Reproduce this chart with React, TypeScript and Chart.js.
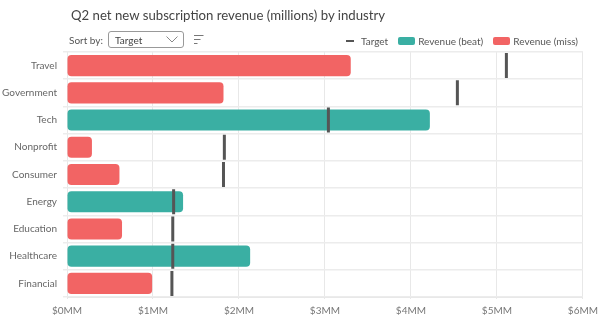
import React, { useEffect, useRef } from "react";
import { Chart, registerables } from "chart.js";

Chart.register(...registerables);

const categories = ["Travel", "Government", "Tech", "Nonprofit", "Consumer", "Energy", "Education", "Healthcare", "Financial"];
const revenue = [3.30, 1.82, 4.22, 0.29, 0.61, 1.35, 0.64, 2.13, 0.99];
const target = [5.11, 4.54, 3.04, 1.83, 1.82, 1.24, 1.23, 1.23, 1.22];
const xTicks = [0, 1, 2, 3, 4, 5, 6];

const TEAL = "#3aafa3";
const RED = "#f26464";
const TARGET = "#555555";
const FONT = "Lato, 'Open Sans', sans-serif";

export default function App() {
  const ref = useRef<HTMLCanvasElement | null>(null);

  useEffect(() => {
    if (!ref.current) return;
    const beat = revenue.map((v, i) => (v >= target[i] ? v : null));
    const miss = revenue.map((v, i) => (v < target[i] ? v : null));
    const chart = new Chart(ref.current, {
      type: "bar",
      data: {
        labels: categories,
        datasets: [
          {
            type: "line",
            label: "Target",
            data: target,
            indexAxis: "y",
            showLine: false,
            pointStyle: "line",
            rotation: 90,
            radius: 12.5,
            hoverRadius: 12.5,
            borderWidth: 3,
            borderColor: TARGET,
            backgroundColor: TARGET,
            order: 0,
          } as any,
          {
            label: "Revenue (beat)",
            data: beat,
            indexAxis: "y",
            backgroundColor: TEAL,
            borderRadius: 4,
            borderSkipped: false,
            grouped: false,
            barPercentage: 0.97,
            categoryPercentage: 0.8,
            order: 1,
          } as any,
          {
            label: "Revenue (miss)",
            data: miss,
            indexAxis: "y",
            backgroundColor: RED,
            borderRadius: 4,
            borderSkipped: false,
            grouped: false,
            barPercentage: 0.97,
            categoryPercentage: 0.8,
            order: 1,
          } as any,
        ],
      },
      options: {
        indexAxis: "y",
        animation: false,
        responsive: false,
        maintainAspectRatio: false,
        layout: { padding: { top: 52, right: 20, left: 0, bottom: 0 } },
        plugins: { legend: { display: false }, tooltip: { enabled: false }, title: { display: false } },
        scales: {
          x: {
            min: 0,
            max: 6,
            afterBuildTicks: (s: any) => {
              s.ticks = xTicks.map((v) => ({ value: v }));
            },
            afterFit: (s: any) => {
              s.height = 27;
            },
            grid: { color: "#e8e8e8", tickLength: 2, drawTicks: true },
            border: { color: "#e8e8e8" },
            ticks: {
              padding: 6,
              color: "#777",
              font: { family: FONT, size: 10 },
              callback: (v: any) => `$${v}MM`,
            },
          },
          y: {
            afterFit: (s: any) => {
              s.width = 67;
            },
            grid: { color: "#ececec", offset: true, tickLength: 4, lineWidth: 1.5 },
            border: { display: false },
            ticks: {
              padding: 6,
              color: "#666",
              font: { family: FONT, size: 10 },
            },
          },
        },
      },
    });
    return () => chart.destroy();
  }, []);

  const legendText: React.CSSProperties = { fontFamily: FONT, fontSize: 10, color: "#555" };

  return (
    <div style={{ position: "fixed", left: 0, top: 0, width: 604, height: 324, background: "#fff", fontFamily: FONT }}>
      <canvas ref={ref} width={604} height={324} style={{ position: "absolute", left: 0, top: 0, width: 604, height: 324 }} />
      <div style={{ position: "absolute", left: 71, top: 6, fontSize: 13.2, lineHeight: "18px", color: "#444", whiteSpace: "nowrap" }}>
        Q2 net new subscription revenue (millions) by industry
      </div>
      <div style={{ position: "absolute", left: 69, top: 31, height: 17, display: "flex", alignItems: "center", fontSize: 10, color: "#555" }}>
        <span style={{ width: 36, display: "inline-block" }}>Sort by:</span>
        <div style={{ marginLeft: 3, width: 63, height: 15, border: "1px solid #999", borderRadius: 3, display: "flex", alignItems: "center", justifyContent: "space-between", padding: "0 5px 0 6px", color: "#444" }}>
          <span>Target</span>
          <svg width="12" height="7" viewBox="0 0 12 7"><polyline points="0.5,0.5 6,6 11.5,0.5" fill="none" stroke="#888" strokeWidth="1" /></svg>
        </div>
        <svg width="10" height="9" viewBox="0 0 10 9" style={{ marginLeft: 10 }}>
          <line x1="0" y1="0.5" x2="9.5" y2="0.5" stroke="#777" strokeWidth="1" />
          <line x1="0" y1="4.5" x2="6.5" y2="4.5" stroke="#777" strokeWidth="1" />
          <line x1="0" y1="8.5" x2="3.5" y2="8.5" stroke="#777" strokeWidth="1" />
        </svg>
      </div>
      <div style={{ position: "absolute", right: 26, top: 34, height: 14, display: "flex", alignItems: "center", whiteSpace: "nowrap" }}>
        <span style={{ display: "inline-block", width: 8, height: 2, background: TARGET, marginRight: 7 }} />
        <span style={{ ...legendText, marginRight: 10 }}>Target</span>
        <span style={{ display: "inline-block", width: 17, height: 8, background: TEAL, borderRadius: 2, marginRight: 3 }} />
        <span style={{ ...legendText, marginRight: 10 }}>Revenue (beat)</span>
        <span style={{ display: "inline-block", width: 17, height: 8, background: RED, borderRadius: 2, marginRight: 3 }} />
        <span style={legendText}>Revenue (miss)</span>
      </div>
    </div>
  );
}
